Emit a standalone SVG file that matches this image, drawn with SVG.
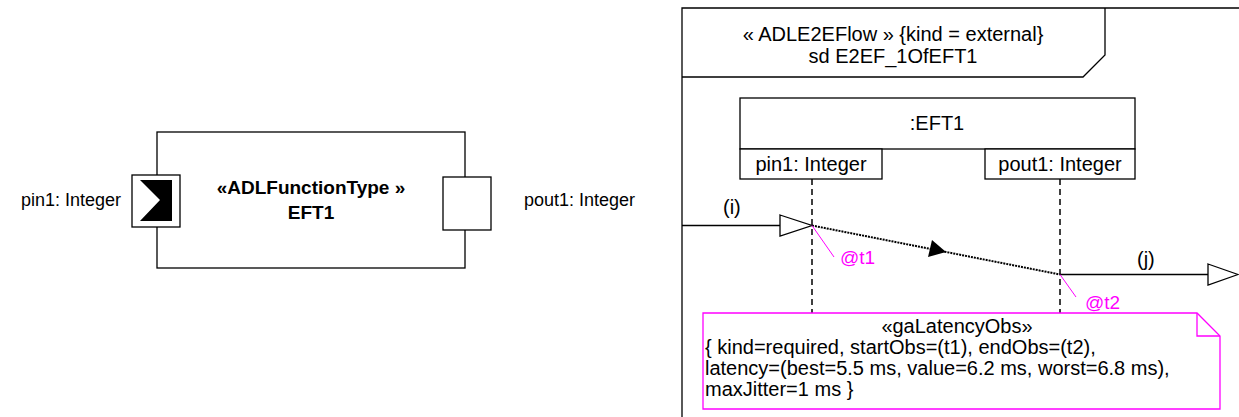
<svg xmlns="http://www.w3.org/2000/svg" width="1239" height="417" viewBox="0 0 1239 417">
<defs>
<style>
text{font-family:"Liberation Sans",Arial,sans-serif;font-size:18px;fill:#000}
.r{font-size:20px}
.b{font-weight:bold;font-size:19px}
.m{fill:#ff00ff;font-size:19px}
.c{text-anchor:middle}
.e{text-anchor:end}
.box{fill:#fff;stroke:#000;stroke-width:1.3}
.ln{fill:none;stroke:#000;stroke-width:1.3}
.dash{fill:none;stroke:#000;stroke-width:1.5;stroke-dasharray:6,4}
.mag{fill:none;stroke:#ff00ff;stroke-width:1}
</style>
</defs>
<rect width="1239" height="417" fill="#fff"/>
<g id="EFT1_block">
<rect class="box" x="157" y="132" width="308" height="136"/>
<text class="b c" x="311" y="194">«ADLFunctionType »</text>
<text class="b c" x="311" y="219">EFT1</text>
</g>
<g id="pin1_port">
<rect class="box" x="132" y="175" width="48" height="52"/>
<polygon points="140,180 172,180 172,221 140,221 160,200" fill="#000"/>
<text class="e" x="121" y="206">pin1: Integer</text>
</g>
<g id="pout1_port">
<rect class="box" x="443" y="177" width="48" height="53"/>
<text x="524" y="206">pout1: Integer</text>
</g>
<g id="frame">
<path class="ln" d="M682,417 V8 H1239"/>
<path class="ln" d="M682,77 H1083 L1105,55 V8"/>
<text class="c r" x="893" y="41">« ADLE2EFlow » {kind = external}</text>
<text class="c r" x="893" y="63">sd E2EF_1OfEFT1</text>
</g>
<g id="lifeline_EFT1">
<rect class="box" x="740" y="98" width="395" height="51"/>
<text class="c r" x="937" y="130">:EFT1</text>
<rect class="box" x="740" y="149" width="142" height="30"/>
<text class="c r" x="811" y="171">pin1: Integer</text>
<rect class="box" x="985" y="149" width="150" height="30"/>
<text class="c r" x="1060" y="171">pout1: Integer</text>
<line class="dash" x1="812" y1="179" x2="812" y2="313"/>
<line class="dash" x1="1060" y1="179" x2="1060" y2="313"/>
</g>
<g id="connectors">
<line class="ln" x1="682" y1="225.5" x2="780" y2="225.5"/>
<polygon points="780,215 812,225.5 780,236" fill="#fff" stroke="#000" stroke-width="1.3"/>
<text class="r" x="723" y="214">(i)</text>
<line x1="812" y1="225.5" x2="1060" y2="274.5" stroke="#000" stroke-width="2" stroke-dasharray="2,1"/>
<polygon points="946,252 928,257 932,240" fill="#000"/>
<line class="ln" x1="1060" y1="274.5" x2="1208" y2="274.5"/>
<polygon points="1208,264 1238,274.5 1208,285" fill="#fff" stroke="#000" stroke-width="1.3"/>
<text class="r" x="1137" y="266">(j)</text>
<line class="mag" x1="812" y1="225.5" x2="834" y2="257"/>
<text class="m" x="840" y="264">@t1</text>
<line class="mag" x1="1060" y1="274.5" x2="1076" y2="297"/>
<text class="m" x="1085" y="309">@t2</text>
</g>
<g id="note_gaLatencyObs">
<path d="M703,313 H1197 L1220,336 V409 H703 Z" fill="#fff" stroke="#ff00ff" stroke-width="1.3"/>
<path d="M1197,313 V336 H1220" fill="none" stroke="#ff00ff" stroke-width="1.3"/>
<text class="c r" x="957" y="333">«gaLatencyObs»</text>
<text class="r" x="705" y="354">{ kind=required, startObs=(t1), endObs=(t2),</text>
<text class="r" x="705" y="375">latency=(best=5.5 ms, value=6.2 ms, worst=6.8 ms),</text>
<text class="r" x="705" y="396">maxJitter=1 ms }</text>
</g>
</svg>
